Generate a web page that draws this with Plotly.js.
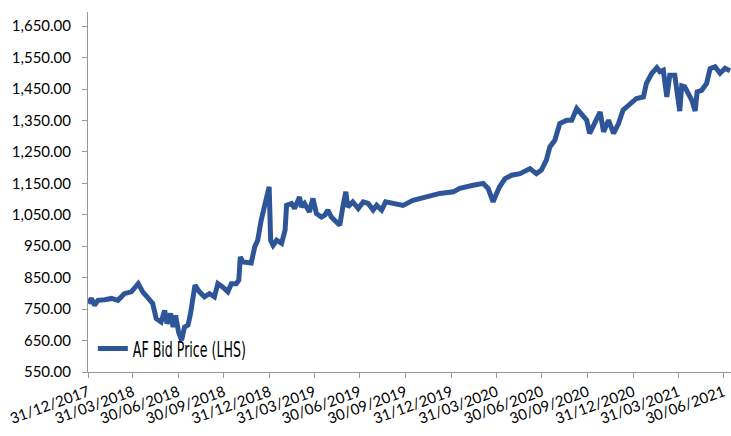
<!DOCTYPE html>
<html>
<head>
<meta charset="utf-8">
<script src="https://cdn.plot.ly/plotly-3.0.1.min.js"></script>
<style>
  html, body { margin: 0; padding: 0; background: #fff; }
  #chart { width: 731px; height: 436px; }
</style>
</head>
<body>
<div id="chart"></div>
<script>
// AF bid price
var dates = [
  '2017-12-31','2018-01-07','2018-01-13','2018-01-20','2018-02-03','2018-02-16','2018-03-01','2018-03-14',
  '2018-03-28','2018-04-11','2018-04-20','2018-04-30','2018-05-10','2018-05-17','2018-05-27','2018-06-03',
  '2018-06-08','2018-06-15','2018-06-20','2018-06-25','2018-07-01','2018-07-07','2018-07-13','2018-07-20',
  '2018-07-25','2018-08-03','2018-08-12','2018-08-22','2018-09-01','2018-09-11','2018-09-18','2018-09-28',
  '2018-10-08','2018-10-15','2018-10-25','2018-10-30','2018-11-02','2018-11-07','2018-11-24','2018-12-01',
  '2018-12-07','2018-12-14','2018-12-21','2018-12-30','2019-01-02','2019-01-07','2019-01-14','2019-01-24',
  '2019-01-31','2019-02-03','2019-02-13','2019-02-19','2019-03-01','2019-03-05','2019-03-11','2019-03-21',
  '2019-03-28','2019-04-04','2019-04-14','2019-04-21','2019-04-27','2019-05-04','2019-05-14','2019-05-21',
  '2019-05-27','2019-06-02','2019-06-06','2019-06-16','2019-06-27','2019-07-07','2019-07-17','2019-07-27',
  '2019-08-03','2019-08-13','2019-08-21','2019-09-05','2019-09-25','2019-10-15','2019-11-11','2019-12-08',
  '2020-01-04','2020-01-17','2020-02-13','2020-03-04','2020-03-14','2020-03-24','2020-03-31','2020-04-06',
  '2020-04-17','2020-04-30','2020-05-17','2020-06-06','2020-06-19','2020-06-29','2020-07-09','2020-07-16',
  '2020-07-26','2020-08-05','2020-08-19','2020-08-29','2020-09-08','2020-09-18','2020-09-28','2020-10-04',
  '2020-10-15','2020-10-25','2020-11-01','2020-11-11','2020-11-21','2020-12-01','2020-12-10','2020-12-24',
  '2021-01-06','2021-01-20','2021-01-26','2021-02-06','2021-02-16','2021-02-22','2021-03-01','2021-03-08',
  '2021-03-14','2021-03-24','2021-04-03','2021-04-07','2021-04-13','2021-04-20','2021-04-27','2021-05-04',
  '2021-05-08','2021-05-17','2021-05-27','2021-06-03','2021-06-13','2021-06-23','2021-07-03','2021-07-13'
];
var bidPrice = [
  769, 784, 762, 778, 780, 784, 778, 799,
  805, 831, 805, 784, 768, 720, 709, 746,
  704, 736, 693, 730, 677, 651, 693, 699,
  736, 826, 805, 789, 799, 789, 831, 820,
  805, 831, 831, 842, 916, 900, 897, 948,
  969, 1033, 1075, 1139, 969, 953, 969, 959,
  1001, 1080, 1086, 1070, 1107, 1075, 1086, 1059,
  1102, 1054, 1043, 1049, 1065, 1043, 1027, 1017,
  1075, 1123, 1075, 1091, 1070, 1091, 1086, 1065,
  1080, 1065, 1091, 1086, 1080, 1096, 1107, 1118,
  1123, 1134, 1144, 1150, 1134, 1091, 1118, 1139,
  1165, 1176, 1181, 1197, 1181, 1192, 1224, 1266,
  1287, 1340, 1351, 1351, 1388, 1372, 1351, 1309,
  1345, 1377, 1314, 1351, 1309, 1340, 1383, 1404,
  1420, 1425, 1468, 1500, 1518, 1505, 1510, 1425,
  1494, 1494, 1380, 1460, 1457, 1436, 1415, 1380,
  1441, 1446, 1468, 1515, 1521, 1500, 1516, 1508
];
var tickDates = [
  '2017-12-31','2018-03-31','2018-06-30','2018-09-30','2018-12-31','2019-03-31','2019-06-30',
  '2019-09-30','2019-12-31','2020-03-31','2020-06-30','2020-09-30','2020-12-31','2021-03-31','2021-06-30'
];
var tickLabels = [
  '31/12/2017','31/03/2018','30/06/2018','30/09/2018','31/12/2018','31/03/2019','30/06/2019',
  '30/09/2019','31/12/2019','31/03/2020','30/06/2020','30/09/2020','31/12/2020','31/03/2021','30/06/2021'
];
var yTicks = [550, 650, 750, 850, 950, 1050, 1150, 1250, 1350, 1450, 1550, 1650];

var trace = {
  x: dates,
  y: bidPrice,
  type: 'scatter',
  mode: 'lines',
  name: 'AF Bid Price (LHS)',
  line: {color: '#2E5597', width: 5}
};

var layout = {
  width: 731,
  height: 436,
  margin: {l: 88, r: 0, t: 12, b: 64},
  paper_bgcolor: '#fff',
  plot_bgcolor: '#fff',
  font: {family: 'Lato, sans-serif', size: 15, color: '#000'},
  showlegend: true,
  legend: {
    x: 0.0075, y: 0.065, xanchor: 'left', yanchor: 'middle',
    bgcolor: 'rgba(0,0,0,0)',
    itemwidth: 30,
    font: {family: 'DejaVu Sans Condensed, DejaVu Sans, sans-serif', size: 22, color: '#000'}
  },
  xaxis: {
    type: 'date',
    range: ['2017-12-31', '2021-07-15'],
    tickvals: tickDates,
    ticktext: tickLabels,
    tickangle: -20,
    ticks: 'outside',
    ticklen: 5,
    tickcolor: '#999',
    showline: true,
    linecolor: '#999',
    linewidth: 1,
    showgrid: false,
    zeroline: false,
    tickfont: {size: 15}
  },
  yaxis: {
    range: [550, 1695],
    tickvals: yTicks,
    tickformat: ',.2f',
    ticks: 'outside',
    ticklen: 5,
    tickcolor: '#999',
    ticklabelstandoff: 8,
    showline: true,
    linecolor: '#999',
    linewidth: 1,
    showgrid: false,
    zeroline: false,
    tickfont: {size: 15}
  }
};

Plotly.newPlot('chart', [trace], layout, {displayModeBar: false}).then(function (gd) {
  // the legend label in the original uses a very narrow face: squeeze it
  var t = gd.querySelector('.legendtext');
  if (t) {
    t.setAttribute('textLength', '113');
    t.setAttribute('lengthAdjust', 'spacingAndGlyphs');
    t.style.fontWeight = '300';
  }
});
</script>
</body>
</html>
